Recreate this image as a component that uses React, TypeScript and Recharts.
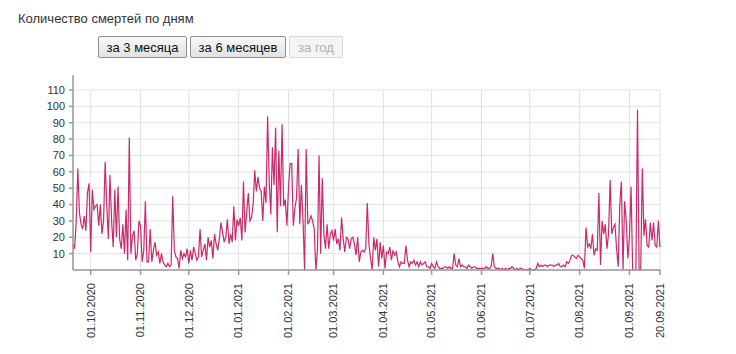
import { CartesianGrid, Line, LineChart, ReferenceLine, XAxis, YAxis } from "recharts";

// daily deaths, one array per month (first day of the series: 20.09.2020)
const START_DATE = "20.09.2020";
const sep2020 = [16, 13, 30, 62, 35, 28, 25, 33, 24, 47, 53];
const oct2020 = [11, 49, 37, 39, 40, 27, 40, 22, 30, 66, 40, 19, 58, 30, 14, 49, 20, 51, 19, 13, 28, 10, 37, 6, 81, 10, 21, 24, 6, 10, 30];
const nov2020 = [27, 5, 12, 42, 5, 5, 25, 5, 12, 17, 9, 11, 4, 10, 5, 3, 2, 4, 2, 3, 45, 12, 8, 7, 1, 12, 7, 10, 8, 13];
const dec2020 = [4, 12, 6, 14, 10, 6, 8, 25, 8, 12, 16, 6, 20, 14, 18, 7, 22, 16, 12, 19, 29, 23, 17, 20, 31, 16, 22, 17, 39, 18, 31];
const jan2021 = [27, 32, 18, 54, 23, 35, 47, 30, 32, 40, 61, 48, 57, 50, 48, 30, 51, 41, 94, 54, 34, 75, 52, 87, 23, 73, 39, 89, 39, 43, 27];
const feb2021 = [50, 65, 65, 27, 38, 44, 74, 28, 52, 31, 0, 74, 28, 30, 33, 30, 25, 0, 12, 70, 10, 56, 22, 13, 28, 13, 22, 24];
const mar2021 = [18, 25, 16, 19, 12, 32, 19, 11, 20, 19, 13, 19, 20, 16, 9, 20, 5, 11, 12, 11, 13, 41, 16, 7, 0, 20, 12, 19, 2, 17, 7];
const apr2021 = [15, 1, 11, 10, 14, 6, 12, 9, 11, 5, 2, 5, 4, 4, 15, 6, 2, 5, 4, 6, 3, 5, 2, 5, 3, 4, 5, 2, 2, 1];
const may2021 = [4, 2, 1, 5, 2, 1, 1, 1, 2, 2, 1, 2, 1, 1, 10, 3, 2, 7, 2, 3, 2, 2, 1, 3, 2, 1, 2, 2, 1, 1, 1];
const jun2021 = [1, 1, 1, 2, 1, 1, 2, 10, 2, 1, 1, 1, 0, 1, 0, 1, 0, 1, 1, 2, 1, 0, 1, 0, 1, 1, 0, 0, 0, 0];
const jul2021 = [1, 0, 0, 0, 1, 4, 2, 3, 2, 3, 3, 2, 3, 3, 3, 2, 3, 3, 4, 2, 2, 3, 2, 5, 4, 6, 9, 9, 8, 7, 9];
const aug2021 = [8, 7, 6, 1, 26, 14, 16, 13, 22, 9, 13, 12, 47, 3, 30, 22, 28, 13, 22, 55, 22, 26, 28, 13, 2, 40, 54, 0, 42, 30, 7];
const sep2021 = [20, 51, 0, 0, 0, 98, 0, 0, 62, 21, 31, 15, 14, 29, 18, 29, 15, 14, 30, 14];

const X_TICKS = [
  "01.10.2020", "01.11.2020", "01.12.2020", "01.01.2021", "01.02.2021", "01.03.2021",
  "01.04.2021", "01.05.2021", "01.06.2021", "01.07.2021", "01.08.2021", "01.09.2021", "20.09.2021",
];
const Y_TICKS = [10, 20, 30, 40, 50, 60, 70, 80, 90, 100, 110];

const DAY = 86400000;
const parse = (s: string) => {
  const [d, m, y] = s.split(".").map(Number);
  return Date.UTC(y, m - 1, d);
};
const fmt = (t: number) => {
  const d = new Date(t);
  const p = (n: number) => String(n).padStart(2, "0");
  return `${p(d.getUTCDate())}.${p(d.getUTCMonth() + 1)}.${d.getUTCFullYear()}`;
};

const start = parse(START_DATE);
const values = [sep2020, oct2020, nov2020, dec2020, jan2021, feb2021, mar2021, apr2021, may2021, jun2021, jul2021, aug2021, sep2021].flat();
const data = values.map((v, i) => ({ t: start + i * DAY, v }));
const xTicks = X_TICKS.map(parse);
const end = xTicks[xTicks.length - 1];

const FONT = "Arial, 'Liberation Sans', sans-serif";
const AXIS = "#9a9a9a";

const XTick = ({ x, y, payload }: any) => (
  <text
    x={x}
    y={y}
    dy="0.35em"
    transform={`rotate(-90, ${x}, ${y})`}
    textAnchor="end"
    fontSize={11}
    fontFamily={FONT}
    fill="#333"
  >
    {fmt(payload.value)}
  </text>
);

const btn = (left: number, width: number, disabled = false): React.CSSProperties => ({
  position: "absolute",
  left,
  top: 28,
  width,
  height: 22,
  boxSizing: "border-box",
  padding: 0,
  fontFamily: FONT,
  fontSize: 13,
  color: disabled ? "#b0b0b0" : "#111",
  background: disabled ? "#f4f4f4" : "linear-gradient(#f8f8f8, #e2e2e2)",
  border: `1px solid ${disabled ? "#d8d8d8" : "#8f8f8f"}`,
  borderRadius: 2,
});

export default function App() {
  return (
    <div style={{ position: "relative", width: 720, height: 338, fontFamily: FONT }}>
      <div style={{ position: "absolute", left: 10, top: 3, fontSize: 13, color: "#333" }}>
        Количество смертей по дням
      </div>
      <button style={btn(90, 89)}>за 3 месяца</button>
      <button style={btn(182, 96)}>за 6 месяцев</button>
      <button style={btn(281, 54, true)} disabled>
        за год
      </button>

      <div style={{ position: "absolute", left: 0, top: 60 }}>
        <LineChart width={720} height={278} data={data} margin={{ top: 22, right: 68, bottom: 0, left: 0 }}>
          <CartesianGrid stroke="#e2e2e2" strokeWidth={1} />
          <XAxis
            type="number"
            dataKey="t"
            domain={[start, end]}
            ticks={xTicks}
            interval={0}
            height={76}
            stroke={AXIS}
            strokeWidth={1.5}
            tickSize={5}
            tickMargin={8}
            tick={<XTick />}
          />
          <YAxis
            type="number"
            domain={[0, 110]}
            ticks={Y_TICKS}
            interval={0}
            width={65}
            stroke={AXIS}
            strokeWidth={1.5}
            tickSize={4}
            tickMargin={4}
            tick={{ fontSize: 11, fill: "#333", fontFamily: FONT }}
          />
          <ReferenceLine
            segment={[
              { x: start, y: 110 },
              { x: start, y: 119 },
            ]}
            ifOverflow="visible"
            stroke={AXIS}
            strokeWidth={1.5}
          />
          <Line
            type="linear"
            dataKey="v"
            stroke="#c92a6c"
            strokeWidth={1.2}
            dot={false}
            isAnimationActive={false}
          />
        </LineChart>
      </div>
    </div>
  );
}
